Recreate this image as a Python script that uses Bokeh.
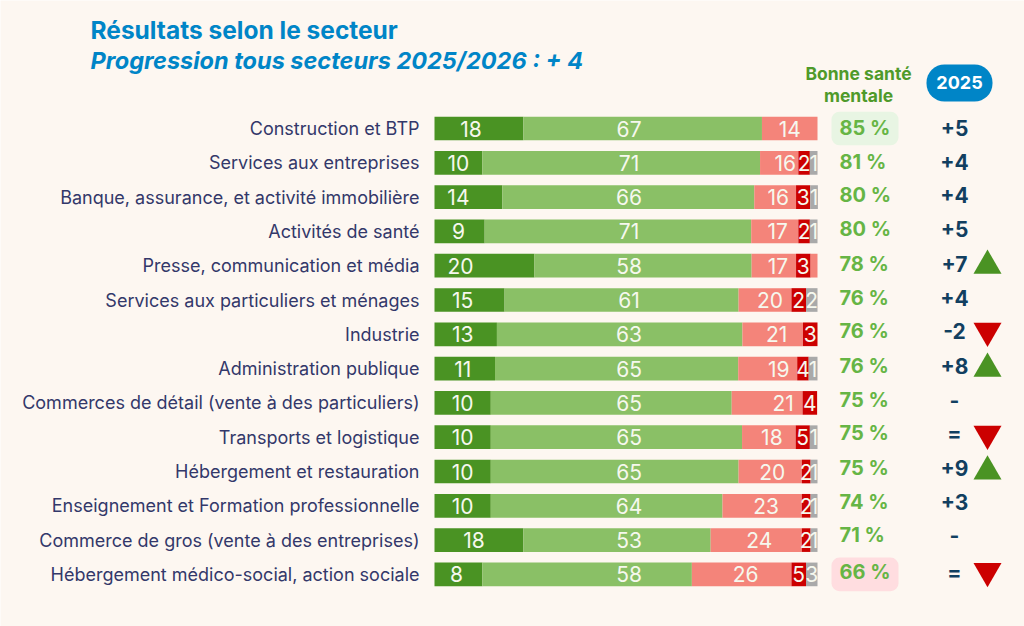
from bokeh.core.properties import value
from bokeh.embed import file_html
from bokeh.resources import INLINE
from bokeh.models import ColumnDataSource, FixedTicker, Label, Range1d
from bokeh.plotting import figure

# ---------- data ----------
title_text = "Résultats selon le secteur"
subtitle_text = "Progression tous secteurs 2025/2026 : + 4"
header_good = ["Bonne santé", "mentale"]
header_year = "2025"

sectors = [
    "Construction et BTP", "Services aux entreprises",
    "Banque, assurance, et activité immobilière", "Activités de santé",
    "Presse, communication et média", "Services aux particuliers et ménages",
    "Industrie", "Administration publique",
    "Commerces de détail (vente à des particuliers)", "Transports et logistique",
    "Hébergement et restauration", "Enseignement et Formation professionnelle",
    "Commerce de gros (vente à des entreprises)", "Hébergement médico-social, action sociale",
]
# printed values
very_good = [18, 10, 14, 9, 20, 15, 13, 11, 10, 10, 10, 10, 18, 8]
good = [67, 71, 66, 71, 58, 61, 63, 65, 65, 65, 65, 64, 53, 58]
poor = [14, 16, 16, 17, 17, 20, 21, 19, 21, 18, 20, 23, 24, 26]
bad = [None, 2, 3, 2, 3, 2, 3, 4, 4, 5, 2, 2, 2, 5]
unknown = [None, 1, 1, 1, None, 2, None, 1, None, 1, 1, 1, 1, 3]
good_health = [85, 81, 80, 80, 78, 76, 76, 76, 75, 75, 75, 74, 71, 66]
change = ["+5", "+4", "+4", "+5", "+7", "+4", "-2", "+8", "-", "=", "+9", "+3", "-", "="]
trend = [None, None, None, None, "up", None, "down", "up", None, "down", "up", None, None, "down"]
highlight = ["best"] + [None] * 12 + ["worst"]

# drawn bar lengths (they differ from the printed values in the reference)
very_good_len = [23.2, 12.5, 17.7, 13.1, 26.1, 18.3, 16.3, 15.8, 14.7, 14.7, 14.7, 14.7, 23.2, 12.5]
good_len = [62.3, 72.5, 65.8, 69.6, 56.7, 61.1, 64.1, 63.5, 62.9, 65.6, 64.7, 60.5, 48.9, 54.7]
poor_len = [14.5, 10.0, 10.9, 12.3, 11.6, 13.8, 15.8, 15.4, 18.5, 14.0, 16.5, 20.7, 23.8, 26.0]
bad_len = [0, 3.0, 3.7, 3.0, 3.8, 3.8, 3.8, 3.0, 3.8, 3.7, 2.3, 2.3, 2.3, 3.8]
poor_tail_len = [0, 0, 0, 0, 1.8, 0, 0, 0, 0, 0, 0, 0, 0, 0]
unknown_len = [0, 2.0, 2.0, 2.0, 0, 3.0, 0, 2.3, 0, 2.0, 1.8, 1.8, 1.8, 3.0]

# ---------- layout ----------
BG = "#FDF7F1"
FONT = "Inter"
W, H = 1024, 626
PX_X = 3.83      # pixels per bar unit
ROW = 34.3       # pixels per row
LEFT_PX, TOP_ROW_PX = 434, 128
def ux(px): return (px - LEFT_PX) / PX_X
def uy(py): return (py - TOP_ROW_PX) / ROW

# nudges (px) of the printed labels, as placed in the reference
dark_nudge = [-8, 0, -10, -1, -24, -7, -3, -2, 0, 0, 0, 0, -5, -2]
poor_nudge = [0, 6, 3, 3, 4, 5, 4, 11, 16, 3, 2, 4, 3, 4]
column_nudge = [-1, -1, -2, -2, -2, -2, -3, -3, -3, -4, -4, -4, -5, -2]

p = figure(width=W, height=H, output_backend="svg", toolbar_location=None,
           x_range=Range1d(ux(0), ux(W)), y_range=Range1d(uy(H), uy(0)),
           x_axis_location=None, min_border_left=0, min_border_right=0,
           min_border_top=0, min_border_bottom=0,
           background_fill_color=BG, border_fill_color=BG, outline_line_color=None)
p.grid.visible = False

rows = list(range(len(sectors)))
ax = p.yaxis[0]
ax.fixed_location = 0
ax.ticker = FixedTicker(ticks=rows)
ax.major_label_overrides = dict(zip(rows, sectors))
ax.axis_line_color = None
ax.major_tick_line_color = None
ax.minor_tick_line_color = None
ax.major_label_standoff = 9
ax.major_label_text_font = FONT
ax.major_label_text_font_size = "18px"
ax.major_label_text_color = "#33386A"

src = ColumnDataSource(dict(row=rows, very_good=very_good_len, good=good_len, poor=poor_len,
                            bad=bad_len, poor_tail=poor_tail_len, unknown=unknown_len))
p.hbar_stack(["very_good", "good", "poor", "bad", "poor_tail", "unknown"], y="row", height=0.69,
             color=["#4A9323", "#8AC066", "#F4847A", "#CC0000", "#F4847A", "#A9A9A9"],
             line_width=0, source=src)

# printed labels on the bars
def seg_labels(values, starts, lengths, nudges=None, fixed=None):
    keep = [i for i, v in enumerate(values) if v is not None]
    return dict(
        x=[fixed if fixed is not None else starts[i] + lengths[i] / 2 for i in keep],
        y=[rows[i] for i in keep],
        t=[str(values[i]) for i in keep],
        dx=[(nudges[i] if nudges else 0) for i in keep],
    )

def cum(*cols):
    return [sum(c[i] for c in cols) for i in rows]

zero = [0] * len(rows)
for vals, starts, lens, nudge, fixed in [
    (very_good, zero, very_good_len, dark_nudge, None),
    (good, zero, good_len, None, 50.8),
    (poor, cum(very_good_len, good_len), poor_len, poor_nudge, None),
    (bad, cum(very_good_len, good_len, poor_len), bad_len, None, None),
    (unknown, cum(very_good_len, good_len, poor_len, bad_len, poor_tail_len), unknown_len, None, None),
]:
    p.text("x", "y", text="t", x_offset="dx", source=ColumnDataSource(seg_labels(vals, starts, lens, nudge, fixed)),
           text_color="#F6F8EE", text_font=value(FONT), text_font_size="21px",
           text_align="center", text_baseline="middle")

# highlight boxes behind the good-health column
box_rows = [i for i in rows if highlight[i]]
p.quad(left=ux(831), right=ux(898), top=[i - 0.49 for i in box_rows], bottom=[i + 0.49 for i in box_rows],
       fill_color=["#E8F5E3" if highlight[i] == "best" else "#FFDDE0" for i in box_rows],
       line_width=0, border_radius=8)

column_src = ColumnDataSource(dict(row=rows, pct=[f"{v} %" for v in good_health], change=change, dy=column_nudge))
p.text(ux(839), "row", text="pct", y_offset="dy", source=column_src,
       text_color="#66B545", text_font=value(FONT), text_font_style="bold", text_font_size="20px",
       text_align="left", text_baseline="middle")

p.text(ux(954), "row", text="change", y_offset="dy", source=column_src,
       text_color="#123F60", text_font=value(FONT), text_font_style="bold", text_font_size="21px",
       text_align="center", text_baseline="middle")

# trend triangles
up = [i for i in rows if trend[i] == "up"]
down = [i for i in rows if trend[i] == "down"]
p.scatter(ux(987), up, marker="triangle", size=28, color="#4A9323", line_width=0)
p.scatter(ux(987), [i - 0.1 for i in down], marker="inverted_triangle", size=28, color="#CC0000", line_width=0)

# column headers
p.text(ux(858), [uy(73), uy(95)], text=header_good, text_color="#4F9A2A", text_font=value(FONT),
       text_font_style="bold", text_font_size="17.5px", text_align="center", text_baseline="middle")
p.quad(left=ux(926), right=ux(992), top=uy(64), bottom=uy(101), fill_color="#0085C7",
       line_width=0, border_radius=18)
p.text(ux(959), uy(82), text=[header_year], text_color="#FFFFFF", text_font=value(FONT),
       text_font_style="bold", text_font_size="18px", text_align="center", text_baseline="middle")

# titles
p.add_layout(Label(x=90, y=H - 29, x_units="screen", y_units="screen", text=title_text,
                   text_color="#0085C7", text_font=FONT, text_font_style="bold",
                   text_font_size="24.5px", text_baseline="middle"))
p.add_layout(Label(x=90, y=H - 60, x_units="screen", y_units="screen", text=subtitle_text,
                   text_color="#0085C7", text_font=FONT, text_font_style="bold italic",
                   text_font_size="23.5px", text_baseline="middle"))

open("out.html", "w").write(file_html(p, INLINE))
